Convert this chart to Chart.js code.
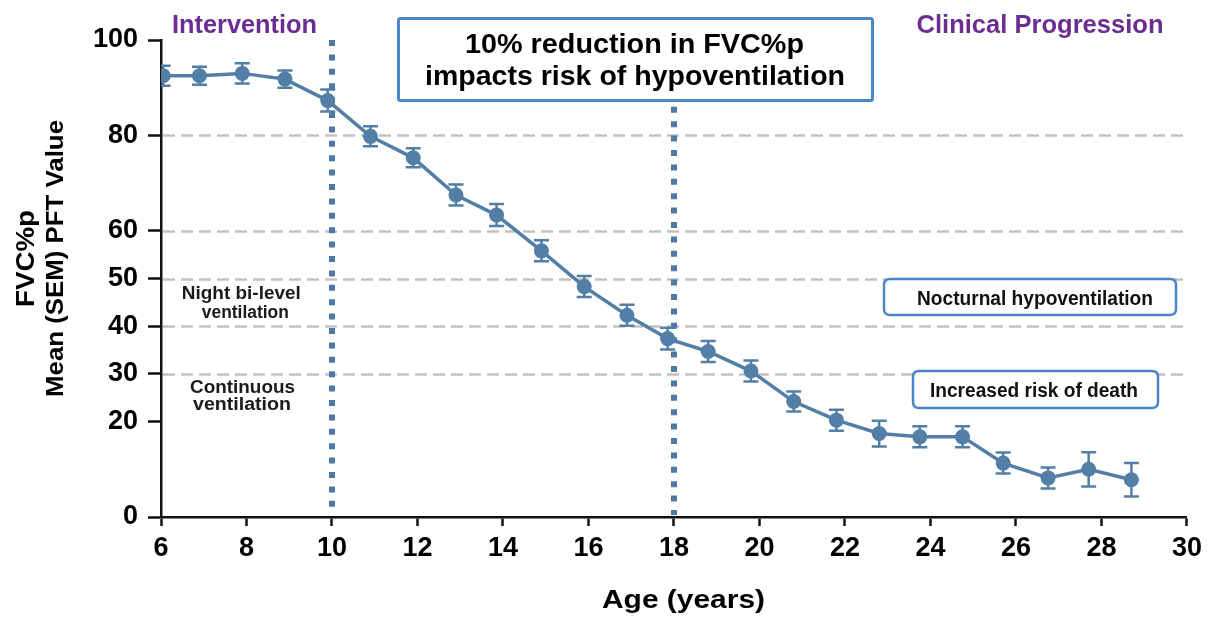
<!DOCTYPE html>
<html>
<head>
<meta charset="utf-8">
<title>FVC%p by age</title>
<script src="https://cdn.jsdelivr.net/npm/chart.js@4.4.1/dist/chart.umd.min.js"></script>
<style>
  html, body { margin: 0; padding: 0; background: #ffffff; }
  canvas { display: block; }
</style>
</head>
<body>
<canvas id="fvcChart" width="1208" height="617"></canvas>
<script>
// Mean FVC% predicted by age, with SEM
const ages = [6.05, 6.9, 7.9, 8.9, 9.9, 10.9, 11.9, 12.9, 13.85, 14.9, 15.9, 16.9,
              17.85, 18.8, 19.8, 20.8, 21.8, 22.8, 23.75, 24.75, 25.7, 26.75, 27.7, 28.7];
const fvcMean = [92.5, 92.5, 93.0, 91.8, 87.3, 79.8, 75.3, 67.5, 63.3, 55.8, 48.3, 42.3,
                 37.4, 34.7, 30.6, 24.2, 20.3, 17.5, 16.8, 16.8, 11.3, 8.2, 10.0, 7.8];
const fvcSem = [2.1, 1.9, 2.1, 1.8, 2.3, 2.1, 2.0, 2.2, 2.3, 2.2, 2.2, 2.2,
                2.3, 2.2, 2.2, 2.1, 2.2, 2.7, 2.2, 2.2, 2.2, 2.2, 3.6, 3.5];

// Axis ticks and reference levels
const yTickValues = [0, 20, 30, 40, 50, 60, 80, 100];
const thresholdLevels = [30, 40, 50, 60, 80];
const phaseAges = [10, 18];
const phaseTopValues = [100, 86];

const FONT = '"Liberation Sans", Arial, Helvetica, sans-serif';
const SERIES_COLOR = '#537ea6';
const MARKER_COLOR = '#4d79a6';
const BOX_COLOR = '#4a86c8';
const PURPLE = '#6b2d91';
const AXIS_COLOR = '#111111';

// Draws bold text centred on cx, scaled horizontally to the given width
function fitText(ctx, text, cx, baseline, size, width, color) {
  ctx.save();
  ctx.font = 'bold ' + size + 'px ' + FONT;
  const w = ctx.measureText(text).width;
  ctx.translate(cx, baseline);
  ctx.scale(width / w, 1);
  ctx.textAlign = 'center';
  ctx.textBaseline = 'alphabetic';
  ctx.fillStyle = color;
  ctx.fillText(text, 0, 0);
  ctx.restore();
}

function roundedBox(ctx, x0, y0, x1, y1, r, lw, color) {
  ctx.save();
  ctx.beginPath();
  ctx.moveTo(x0 + r, y0);
  ctx.lineTo(x1 - r, y0);
  ctx.quadraticCurveTo(x1, y0, x1, y0 + r);
  ctx.lineTo(x1, y1 - r);
  ctx.quadraticCurveTo(x1, y1, x1 - r, y1);
  ctx.lineTo(x0 + r, y1);
  ctx.quadraticCurveTo(x0, y1, x0, y1 - r);
  ctx.lineTo(x0, y0 + r);
  ctx.quadraticCurveTo(x0, y0, x0 + r, y0);
  ctx.closePath();
  ctx.fillStyle = '#ffffff';
  ctx.fill();
  ctx.lineWidth = lw;
  ctx.strokeStyle = color;
  ctx.stroke();
  ctx.restore();
}

const overlayPlugin = {
  id: 'overlay',
  beforeDatasetsDraw(chart) {
    const { ctx, chartArea: area, scales: { x, y } } = chart;
    ctx.save();

    // dashed reference levels
    ctx.strokeStyle = '#c2c2c2';
    ctx.lineWidth = 2.5;
    ctx.setLineDash([12, 6]);
    thresholdLevels.forEach(v => {
      const py = Math.round(y.getPixelForValue(v)) + 0.5;
      ctx.beginPath();
      ctx.moveTo(area.left + 2, py);
      ctx.lineTo(area.right, py);
      ctx.stroke();
    });

    // dotted phase markers
    ctx.strokeStyle = MARKER_COLOR;
    ctx.lineWidth = 6;
    ctx.setLineDash([6, 8.4]);
    phaseAges.forEach((age, i) => {
      const px = x.getPixelForValue(age);
      ctx.beginPath();
      ctx.moveTo(px, y.getPixelForValue(phaseTopValues[i]));
      ctx.lineTo(px, area.bottom - 2);
      ctx.stroke();
    });

    // SEM error bars
    ctx.setLineDash([]);
    ctx.beginPath();
    ctx.rect(area.left, area.top - 20, area.right - area.left, area.bottom - area.top + 20);
    ctx.clip();
    ctx.strokeStyle = SERIES_COLOR;
    ctx.lineWidth = 2.5;
    const cap = 7.5;
    ages.forEach((age, i) => {
      const px = x.getPixelForValue(age);
      const hi = y.getPixelForValue(fvcMean[i] + fvcSem[i]);
      const lo = y.getPixelForValue(fvcMean[i] - fvcSem[i]);
      ctx.beginPath();
      ctx.moveTo(px, hi); ctx.lineTo(px, lo);
      ctx.moveTo(px - cap, hi); ctx.lineTo(px + cap, hi);
      ctx.moveTo(px - cap, lo); ctx.lineTo(px + cap, lo);
      ctx.stroke();
    });
    ctx.restore();
  },
  afterDraw(chart) {
    const ctx = chart.ctx;

    // phase headings
    fitText(ctx, 'Intervention', 244.5, 33, 25, 145, PURPLE);
    fitText(ctx, 'Clinical Progression', 1040, 33, 25, 247, PURPLE);

    // headline box
    roundedBox(ctx, 398.5, 18.5, 872.5, 100.5, 2, 3, BOX_COLOR);
    fitText(ctx, '10% reduction in FVC%p', 634.5, 53, 28, 339, '#000000');
    fitText(ctx, 'impacts risk of hypoventilation', 635, 85, 28, 420, '#000000');

    // threshold callouts
    roundedBox(ctx, 884, 279, 1176, 315, 6, 2.5, BOX_COLOR);
    fitText(ctx, 'Nocturnal hypoventilation', 1035, 305, 20, 236, '#111111');
    roundedBox(ctx, 913, 371, 1158, 408, 6, 2.5, BOX_COLOR);
    fitText(ctx, 'Increased risk of death', 1034, 397, 20, 208, '#111111');

    // ventilation notes
    fitText(ctx, 'Night bi-level', 241.3, 299, 18, 119, '#1a1a1a');
    fitText(ctx, 'ventilation', 245.3, 318, 18, 87, '#1a1a1a');
    fitText(ctx, 'Continuous', 242.5, 393, 18, 105, '#1a1a1a');
    fitText(ctx, 'ventilation', 242, 410, 18, 98, '#1a1a1a');

    // axis titles
    ctx.save();
    ctx.translate(33.5, 258.5);
    ctx.rotate(-Math.PI / 2);
    fitText(ctx, 'FVC%p', 0, 0, 26, 97, '#000000');
    ctx.restore();
    ctx.save();
    ctx.translate(63, 258.5);
    ctx.rotate(-Math.PI / 2);
    fitText(ctx, 'Mean (SEM) PFT Value', 0, 0, 24, 277, '#000000');
    ctx.restore();
    fitText(ctx, 'Age (years)', 683.5, 608, 25, 163, '#000000');
  }
};

const points = ages.map((age, i) => ({ x: age, y: fvcMean[i] }));

new Chart(document.getElementById('fvcChart'), {
  type: 'line',
  data: {
    datasets: [{
      label: 'FVC%p',
      data: points,
      borderColor: SERIES_COLOR,
      backgroundColor: SERIES_COLOR,
      borderWidth: 3.5,
      pointRadius: 7.5,
      pointBorderWidth: 0,
      pointBackgroundColor: SERIES_COLOR,
      tension: 0,
      fill: false
    }]
  },
  options: {
    responsive: false,
    animation: false,
    devicePixelRatio: 1,
    layout: { padding: { top: 40, right: 20, bottom: 0, left: 0 } },
    plugins: { legend: { display: false }, tooltip: { enabled: false } },
    scales: {
      x: {
        type: 'linear',
        min: 6,
        max: 30,
        afterFit: s => { s.height = 100; },
        ticks: {
          stepSize: 2,
          color: '#000000',
          padding: 6,
          maxRotation: 0,
          font: { family: FONT, size: 27, weight: 'bold' }
        },
        grid: {
          drawOnChartArea: false,
          tickLength: 9,
          tickColor: AXIS_COLOR,
          tickWidth: 2.5,
          color: AXIS_COLOR
        },
        border: { display: true, color: AXIS_COLOR, width: 2.5 }
      },
      y: {
        type: 'linear',
        min: 0,
        max: 100,
        afterFit: s => { s.width = 161; },
        afterBuildTicks: s => { s.ticks = yTickValues.map(v => ({ value: v })); },
        ticks: {
          color: '#000000',
          padding: 10,
          font: { family: FONT, size: 27, weight: 'bold' }
        },
        grid: {
          drawOnChartArea: false,
          tickLength: 13,
          tickColor: AXIS_COLOR,
          tickWidth: 2.5,
          color: AXIS_COLOR
        },
        border: { display: true, color: AXIS_COLOR, width: 2.5 }
      }
    }
  },
  plugins: [overlayPlugin]
});
</script>
</body>
</html>
